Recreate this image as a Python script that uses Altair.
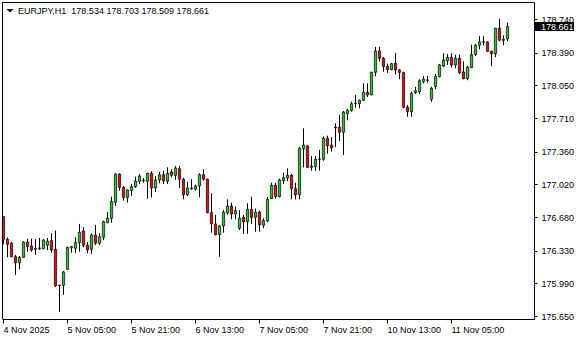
import altair as alt
import pandas as pd

symbol = "EURJPY,H1"

opens = [176.683, 176.448, 176.407, 176.267, 176.205, 176.261, 176.420, 176.379, 176.351, 176.351,
         176.351, 176.386, 176.434, 176.344, 175.970, 175.970, 176.136, 176.358, 176.355, 176.413,
         176.535, 176.386, 176.344, 176.493, 176.407, 176.469, 176.621, 176.667, 176.833, 177.128,
         176.989, 176.885, 176.954, 176.996, 177.052, 177.058, 177.052, 177.135, 176.982, 177.065,
         177.120, 177.052, 177.149, 177.114, 177.183, 177.073, 176.912, 176.975, 176.969, 177.003,
         177.120, 177.073, 176.725, 176.608, 176.496, 176.587, 176.725, 176.795, 176.712, 176.563,
         176.677, 176.631, 176.760, 176.677, 176.732, 176.594, 176.639, 176.871, 177.010, 176.892,
         177.058, 177.086, 177.114, 176.975, 176.912, 177.391, 177.419, 177.197, 177.204, 177.281,
         177.281, 177.499, 177.429, 177.614, 177.614, 177.562, 177.755, 177.790, 177.859, 177.859,
         177.895, 177.978, 177.950, 178.186, 178.407, 178.331, 178.248, 178.213, 178.279, 178.210,
         178.182, 177.822, 177.776, 177.974, 177.984, 178.088, 178.106, 177.905, 178.036, 178.140,
         178.251, 178.306, 178.342, 178.262, 178.331, 178.189, 178.119, 178.234, 178.369, 178.467,
         178.498, 178.501, 178.404, 178.379, 178.644, 178.519, 178.534]

highs = [176.691, 176.467, 176.420, 176.285, 176.275, 176.428, 176.455, 176.455, 176.448, 176.462,
         176.448, 176.462, 176.511, 176.538, 175.976, 176.119, 176.371, 176.379, 176.469, 176.608,
         176.573, 176.420, 176.511, 176.597, 176.511, 176.642, 176.732, 176.892, 177.135, 177.135,
         177.003, 176.969, 177.024, 177.100, 177.128, 177.086, 177.141, 177.156, 177.107, 177.149,
         177.162, 177.197, 177.177, 177.211, 177.211, 177.086, 177.044, 177.073, 177.016, 177.135,
         177.177, 177.079, 176.927, 176.701, 176.594, 176.753, 176.864, 176.829, 176.788, 176.753,
         176.701, 176.823, 176.892, 176.767, 176.746, 176.667, 176.888, 177.037, 177.037, 177.079,
         177.141, 177.187, 177.128, 177.037, 177.406, 177.603, 177.429, 177.315, 177.315, 177.377,
         177.516, 177.526, 177.513, 177.655, 177.742, 177.783, 177.804, 177.880, 177.950, 177.901,
         178.071, 178.071, 178.192, 178.449, 178.449, 178.345, 178.275, 178.283, 178.387, 178.220,
         178.192, 177.846, 177.984, 178.033, 178.113, 178.147, 178.147, 178.036, 178.168, 178.272,
         178.383, 178.376, 178.383, 178.366, 178.369, 178.300, 178.251, 178.473, 178.480, 178.564,
         178.564, 178.508, 178.411, 178.647, 178.743, 178.571, 178.703]

lows = [176.396, 176.261, 176.261, 176.077, 176.136, 176.254, 176.319, 176.319, 176.288, 176.337,
        176.344, 176.337, 176.309, 175.952, 175.695, 175.869, 176.129, 176.309, 176.303, 176.319,
        176.365, 176.303, 176.295, 176.389, 176.389, 176.441, 176.615, 176.621, 176.795, 176.954,
        176.850, 176.829, 176.899, 176.982, 177.024, 177.037, 176.871, 176.885, 176.940, 177.031,
        177.024, 177.024, 177.093, 177.065, 176.982, 176.864, 176.899, 176.961, 176.954, 176.885,
        177.058, 176.719, 176.517, 176.490, 176.267, 176.517, 176.701, 176.656, 176.656, 176.545,
        176.504, 176.504, 176.608, 176.527, 176.527, 176.563, 176.628, 176.868, 176.871, 176.885,
        177.024, 177.055, 176.864, 176.864, 176.864, 177.197, 177.190, 177.162, 177.162, 177.162,
        177.266, 177.339, 177.360, 177.406, 177.471, 177.325, 177.686, 177.776, 177.818, 177.811,
        177.887, 177.929, 177.947, 178.144, 178.296, 178.192, 178.179, 178.207, 178.163, 178.113,
        177.811, 177.724, 177.724, 177.960, 177.960, 178.071, 178.078, 177.880, 178.009, 178.134,
        178.238, 178.262, 178.238, 178.227, 178.168, 178.113, 178.103, 178.231, 178.355, 178.425,
        178.467, 178.397, 178.251, 178.345, 178.508, 178.467, 178.509]

closes = [176.448, 176.396, 176.267, 176.205, 176.261, 176.420, 176.371, 176.337, 176.344, 176.358,
          176.441, 176.428, 176.337, 175.963, 175.966, 176.108, 176.365, 176.371, 176.413, 176.521,
          176.386, 176.337, 176.493, 176.407, 176.475, 176.631, 176.667, 176.840, 177.128, 176.989,
          176.885, 176.961, 176.996, 177.055, 177.107, 177.062, 177.135, 176.982, 177.065, 177.120,
          177.058, 177.135, 177.114, 177.190, 177.073, 176.912, 176.982, 176.982, 177.003, 177.120,
          177.073, 176.725, 176.608, 176.496, 176.587, 176.732, 176.795, 176.712, 176.746, 176.667,
          176.631, 176.760, 176.677, 176.732, 176.600, 176.642, 176.864, 177.010, 176.892, 177.065,
          177.089, 177.114, 176.975, 176.912, 177.395, 177.429, 177.197, 177.211, 177.281, 177.284,
          177.499, 177.422, 177.401, 177.606, 177.562, 177.770, 177.790, 177.859, 177.863, 177.895,
          177.978, 177.950, 178.186, 178.407, 178.331, 178.244, 178.213, 178.275, 178.210, 178.186,
          177.822, 177.776, 177.967, 177.994, 178.098, 178.116, 178.103, 178.019, 178.147, 178.262,
          178.314, 178.342, 178.262, 178.331, 178.182, 178.119, 178.241, 178.369, 178.467, 178.501,
          178.504, 178.404, 178.379, 178.644, 178.519, 178.529, 178.661]

x_tick_bars = [0, 16, 32, 48, 64, 80, 96, 112]
x_tick_labels = ["4 Nov 2025", "5 Nov 05:00", "5 Nov 21:00", "6 Nov 13:00",
                 "7 Nov 05:00", "7 Nov 21:00", "10 Nov 13:00", "11 Nov 05:00"]
y_ticks = [175.650, 175.990, 176.330, 176.680, 177.020, 177.360, 177.710, 178.050, 178.390, 178.740]

GREEN = "#2fbf2f"
RED = "#e01010"
FONT = "Liberation Sans"
W, H = 532, 317

df = pd.DataFrame({
    "i": list(range(len(opens))),
    "open": opens, "high": highs, "low": lows, "close": closes,
})
df["dir"] = ["up" if c >= o else "down" for o, c in zip(opens, closes)]

label_arr = "[" + ",".join("'%s'" % s for s in x_tick_labels) + "]"

xs = alt.Scale(domain=[-0.375, 132.625], nice=False, zero=False, padding=0)
ys = alt.Scale(domain=[175.619, 178.917], nice=False, zero=False, padding=0)

x_axis = alt.Axis(values=x_tick_bars, labelExpr=label_arr + "[round(datum.value/16)]",
                  title=None, grid=False, tickSize=4, tickOffset=-0.5, labelPadding=2,
                  labelAlign="left", labelBaseline="top", labelFlush=False, labelOverlap=False,
                  labelFont=FONT, labelFontSize=9, labelColor="black",
                  domainColor="black", tickColor="black")
y_axis = alt.Axis(orient="right", values=y_ticks, format=".3f", title=None, grid=False,
                  tickSize=3, labelPadding=4, labelAlign="left", labelBaseline="middle",
                  labelFont=FONT, labelFontSize=9, labelColor="black",
                  domainColor="black", tickColor="black", labelOverlap=False, labelFlush=False)

base = alt.Chart(df)
wicks = base.mark_rule(color="black", strokeWidth=1).encode(
    x=alt.X("i:Q", scale=xs, axis=x_axis),
    y=alt.Y("low:Q", scale=ys, axis=y_axis),
    y2="high:Q",
)
bodies = base.mark_bar(size=2.3, stroke="black", strokeWidth=0.7).encode(
    x=alt.X("i:Q", scale=xs, axis=x_axis),
    y=alt.Y("open:Q", scale=ys, axis=y_axis),
    y2="close:Q",
    fill=alt.Fill("dir:N", scale=alt.Scale(domain=["up", "down"], range=[GREEN, RED]), legend=None),
)

one = alt.Chart(pd.DataFrame({"a": [0]}))
left_frame = one.mark_rule(color="black", strokeWidth=1).encode(
    x=alt.value(0.5), y=alt.value(0), y2=alt.value(H))
top_frame = one.mark_rule(color="black", strokeWidth=1).encode(
    x=alt.value(0), x2=alt.value(W), y=alt.value(0.5))

last = pd.DataFrame({"close": [closes[-1]], "txt": ["%.3f" % closes[-1]]})
price_box = alt.Chart(last).mark_rect(color="black", yOffset=-4.5, y2Offset=4.5).encode(
    x=alt.value(W), x2=alt.value(W + 40),
    y=alt.Y("close:Q", scale=ys, axis=y_axis), y2="close:Q")
price_txt = alt.Chart(last).mark_text(color="white", font=FONT, fontSize=9, align="left",
                                      baseline="middle", dy=0.5).encode(
    x=alt.value(W + 7), y=alt.Y("close:Q", scale=ys, axis=y_axis), text="txt:N")

nb = "\u00a0"
title_str = symbol + nb * 2 + " ".join("%.3f" % v for v in [opens[-1], highs[-1], lows[-1], closes[-1]])
title_txt = one.mark_text(font=FONT, fontSize=9, align="left", baseline="alphabetic",
                          color="black").encode(
    x=alt.value(16), y=alt.value(12), text=alt.value(title_str))
tri = one.mark_point(shape="M-1,-0.5L1,-0.5L0,0.5Z", size=49, filled=True,
                     color="black", opacity=1).encode(x=alt.value(8), y=alt.value(8.7))

chart = alt.layer(wicks, bodies, left_frame, top_frame, price_box, price_txt, title_txt, tri).properties(
    width=W, height=H,
    autosize=alt.AutoSizeParams(type="none"),
    padding={"left": 2, "top": 2, "right": 46, "bottom": 21},
).configure_view(stroke=None).configure(background="white")

chart.save("out.html", embed_options={"renderer": "svg", "actions": False})
